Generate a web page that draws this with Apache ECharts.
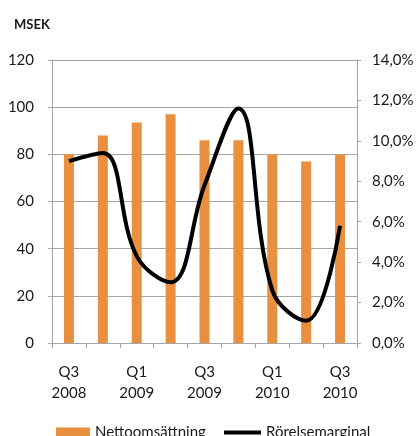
<!DOCTYPE html>
<html>
<head>
    <meta charset="UTF-8">
    <title>Nettoomsättning och rörelsemarginal</title>
    <script src="https://cdn.jsdelivr.net/npm/echarts@6/dist/echarts.min.js"></script>
    <style>
        html, body { margin: 0; padding: 0; background: #fff; }
        #chart { width: 419px; height: 436px; }
    </style>
</head>
<body>
<div id="chart"></div>
<script>
    // kvartal Q3 2008 - Q3 2010
    var kvartal = ['Q3\n2008', 'Q4\n2008', 'Q1\n2009', 'Q2\n2009', 'Q3\n2009',
        'Q4\n2009', 'Q1\n2010', 'Q2\n2010', 'Q3\n2010'];
    var nettoomsattning = [80, 88, 93.5, 97, 86, 86, 80, 77, 80];   // MSEK
    var rorelsemarginal = [9.0, 9.4, 4.3, 3.0, 7.8, 11.6, 2.6, 1.1, 5.8]; // %

    var font = 'Lato';
    var grey = '#a6a6a6';
    var txt = '#1a1a1a';

    var chart = echarts.init(document.getElementById('chart'), null, {renderer: 'canvas'});
    chart.setOption({
        animation: false,
        textStyle: {fontFamily: font, color: txt},
        title: {
            text: 'MSEK', left: 9, top: 13,
            textStyle: {fontFamily: font, fontSize: 13, fontWeight: 'bold', color: txt}
        },
        grid: {left: 52, right: 62, top: 60, bottom: 93},
        legend: [{
            left: 51, top: 420, itemWidth: 34, itemHeight: 10,
            textStyle: {fontFamily: font, fontSize: 15, color: txt},
            data: [{name: 'Nettoomsättning', icon: 'rect'}]
        }, {
            left: 219, top: 420, itemWidth: 37, itemHeight: 4,
            textStyle: {fontFamily: font, fontSize: 15, color: txt},
            data: [{name: 'Rörelsemarginal', icon: 'rect', itemStyle: {color: '#000'}}]
        }],
        xAxis: {
            type: 'category',
            data: kvartal,
            axisLine: {lineStyle: {color: grey, width: 1}},
            axisTick: {show: true, interval: 0, length: 5, lineStyle: {color: grey}},
            axisLabel: {interval: 1, fontSize: 15, lineHeight: 21, margin: 19, color: txt, fontFamily: font}
        },
        yAxis: [{
            type: 'value', min: 0, max: 120, interval: 20,
            axisLine: {show: true, lineStyle: {color: grey}},
            axisTick: {show: true, length: 4, lineStyle: {color: grey}},
            splitLine: {lineStyle: {color: grey, width: 1}},
            axisLabel: {fontSize: 15, margin: 18, color: txt, fontFamily: font}
        }, {
            type: 'value', min: 0, max: 14, interval: 2,
            axisLine: {show: true, lineStyle: {color: grey}},
            axisTick: {show: true, length: 4, lineStyle: {color: grey}},
            splitLine: {show: false},
            axisLabel: {
                fontSize: 15, margin: 15, color: txt, fontFamily: font,
                formatter: function (v) { return v.toFixed(1).replace('.', ',') + '%'; }
            }
        }],
        series: [{
            name: 'Nettoomsättning',
            type: 'bar',
            data: nettoomsattning,
            barWidth: 10,
            itemStyle: {color: '#e8903f'}
        }, {
            name: 'Rörelsemarginal',
            type: 'line',
            yAxisIndex: 1,
            data: rorelsemarginal,
            smooth: 0.4,
            symbol: 'none',
            lineStyle: {color: '#000', width: 4},
            itemStyle: {color: '#000'}
        }]
    });
</script>
</body>
</html>
